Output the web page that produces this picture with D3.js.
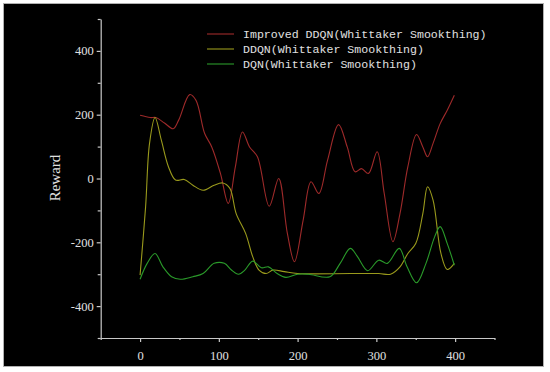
<!DOCTYPE html>
<html>
<head>
<meta charset="utf-8">
<script src="https://cdn.jsdelivr.net/npm/d3@7"></script>
<style>
  html, body { margin: 0; padding: 0; background: #fff; }
  svg { display: block; }
</style>
</head>
<body>
<div id="chart"></div>
<script>
// series values: [episode, reward]
const improvedDDQN = [
    [0, 198], [13, 191], [20, 191], [31, 174], [42, 156], [49, 183], [63, 263],
    [71, 245], [82, 141], [91, 99], [102, 16], [112, -78], [121, 37], [130, 146],
    [139, 99], [149, 68], [164, -87], [176, 0], [187, -172], [196, -261],
    [207, -131], [217, -10], [227, -47], [238, 57], [252, 169], [263, 99],
    [273, 21], [281, 31], [290, 16], [301, 84], [310, -47], [321, -198],
    [330, -110], [340, 37], [351, 138], [359, 99], [365, 68], [372, 110],
    [381, 172], [390, 214], [399, 261]
];
const ddqn = [
    [0, -303], [7, -89], [12, 110], [19, 191], [27, 120], [36, 37], [45, -5],
    [56, -3], [67, -21], [80, -37], [94, -21], [105, -14], [114, -31],
    [122, -110], [134, -172], [143, -245], [151, -287], [160, -298],
    [169, -287], [183, -292], [200, -298], [267, -298], [303, -298],
    [318, -300], [330, -277], [340, -235], [350, -204], [359, -110],
    [365, -26], [372, -68], [382, -235], [390, -285], [399, -266]
];
const dqn = [
    [0, -316], [9, -266], [19, -235], [29, -277], [40, -308], [51, -316],
    [67, -308], [80, -298], [94, -266], [107, -266], [116, -287], [125, -300],
    [133, -287], [143, -259], [154, -280], [163, -277], [174, -298],
    [185, -310], [200, -300], [214, -300], [241, -308], [254, -266],
    [267, -219], [276, -245], [289, -289], [303, -256], [314, -266],
    [329, -219], [339, -277], [351, -327], [363, -266], [374, -183],
    [381, -151], [390, -204], [399, -272]
];

const seriesNames = [
    "Improved DDQN(Whittaker Smookthing)",
    "DDQN(Whittaker Smookthing)",
    "DQN(Whittaker Smookthing)"
];
const seriesColors = ["#9e2a2a", "#9a9a1c", "#2a9a2a"];

const xTicks = [0, 100, 200, 300, 400];
const xMinorTicks = [-50, 50, 150, 250, 350, 450];
const yTicks = [-400, -200, 0, 200, 400];
const yMinorTicks = [-500, -300, -100, 100, 300, 500];

const width = 550, height = 372;
const svg = d3.select("#chart").append("svg")
    .attr("width", width)
    .attr("height", height);

// black panel
svg.append("rect")
    .attr("x", 3.5).attr("y", 3.5)
    .attr("width", 540).attr("height", 363)
    .attr("fill", "#000")
    .attr("stroke", "#b0b0b0");

const x = d3.scaleLinear().domain([-50, 450]).range([100.7, 494.5]);
const y = d3.scaleLinear().domain([-500, 500]).range([338, 19]);

const axisColor = "#c8c8c8";
const labelColor = "#e0e0e0";

// x axis
const gx = svg.append("g").attr("transform", "translate(0,338)");
gx.call(d3.axisBottom(x).tickValues(xTicks).tickSize(4).tickSizeOuter(0).tickFormat(d3.format("d")));
gx.append("g").call(d3.axisBottom(x).tickValues(xMinorTicks).tickSize(2).tickFormat(""))
    .select(".domain").remove();

// y axis
const gy = svg.append("g").attr("transform", "translate(100.7,0)");
gy.call(d3.axisLeft(y).tickValues(yTicks).tickSize(4).tickSizeOuter(0)
    .tickFormat(d => d < 0 ? "-" + Math.abs(d) : d));
gy.append("g").call(d3.axisLeft(y).tickValues(yMinorTicks).tickSize(3).tickFormat(""))
    .select(".domain").remove();

svg.selectAll(".domain").attr("stroke", axisColor).attr("stroke-width", 1.2);
svg.selectAll(".tick line").attr("stroke", axisColor).attr("stroke-width", 1.2);
svg.selectAll(".tick text")
    .attr("fill", labelColor)
    .attr("font-family", "Liberation Serif, serif")
    .attr("font-size", 12.5);
gx.selectAll(".tick text").attr("dy", "1.2em");
gy.selectAll(".tick text").attr("x", -7);

// y label
svg.append("text")
    .attr("transform", "translate(60,178) rotate(-90)")
    .attr("text-anchor", "middle")
    .attr("fill", labelColor)
    .attr("font-family", "Liberation Serif, serif")
    .attr("font-size", 15)
    .text("Reward");

// lines
const line = d3.line()
    .x(d => x(d[0]))
    .y(d => y(d[1]))
    .curve(d3.curveCatmullRom.alpha(0.5));

[improvedDDQN, ddqn, dqn].forEach((s, i) => {
    svg.append("path")
        .datum(s)
        .attr("fill", "none")
        .attr("stroke", seriesColors[i])
        .attr("stroke-width", 1.1)
        .attr("d", line);
});

// legend
const legend = svg.append("g").attr("transform", "translate(207,34)");
seriesNames.forEach((name, i) => {
    const row = legend.append("g").attr("transform", `translate(0,${i * 15})`);
    row.append("line")
        .attr("x1", 0).attr("x2", 27)
        .attr("y1", 0).attr("y2", 0)
        .attr("stroke", seriesColors[i])
        .attr("stroke-width", 1.1);
    row.append("text")
        .attr("x", 36)
        .attr("y", 4)
        .attr("fill", labelColor)
        .attr("font-family", "Liberation Mono, monospace")
        .attr("font-size", 11.6)
        .text(name);
});
</script>
</body>
</html>
